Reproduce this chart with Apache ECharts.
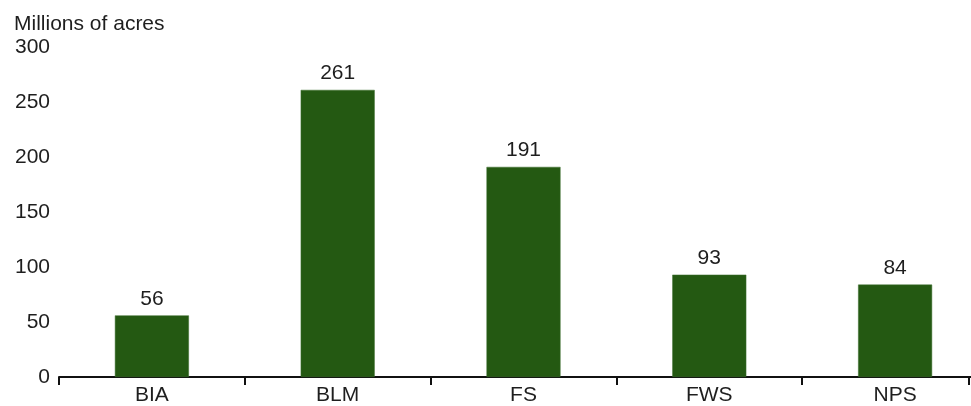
<!DOCTYPE html>
<html>
<head>
<meta charset="utf-8">
<script src="https://cdn.jsdelivr.net/npm/echarts@6/dist/echarts.min.js"></script>
<style>
html,body{margin:0;padding:0;background:#fff;overflow:hidden;width:971px;height:406px;}
#chart{width:988px;height:406px;}
</style>
</head>
<body>
<div id="chart"></div>
<script>
const categories = ['BIA', 'BLM', 'FS', 'FWS', 'NPS'];
const values = [56, 261, 191, 93, 84];
const yTicks = [0, 50, 100, 150, 200, 250, 300];
const axisTitle = 'Millions of acres';

const chart = echarts.init(document.getElementById('chart'));
const font = '"Liberation Sans", Arial, Helvetica, sans-serif';
chart.setOption({
  animation: false,
  textStyle: { fontFamily: font },
  title: {
    text: axisTitle,
    left: 9, top: 9,
    textStyle: { fontFamily: font, fontSize: 21, fontWeight: 'normal', color: '#1e1e1e' }
  },
  grid: { left: 59, top: 47, right: 0, bottom: 29, containLabel: false },
  xAxis: {
    type: 'category',
    data: categories,
    axisLine: { show: true, lineStyle: { color: '#111', width: 2 } },
    axisTick: { show: true, length: 8, lineStyle: { color: '#111', width: 2 } },
    axisLabel: { color: '#1e1e1e', fontSize: 21, fontFamily: font, margin: 8 }
  },
  yAxis: {
    type: 'value',
    min: yTicks[0], max: yTicks[yTicks.length - 1], interval: 50,
    axisLine: { show: false },
    axisTick: { show: false },
    splitLine: { show: false },
    axisLabel: { color: '#1e1e1e', fontSize: 21, fontFamily: font, margin: 9 }
  },
  graphic: [{
    type: 'rect', left: 968, top: 377,
    shape: { x: 0, y: 0, width: 2, height: 8 },
    style: { fill: '#111' }
  }],
  series: [{
    type: 'bar',
    data: values,
    barWidth: 74,
    itemStyle: { color: '#245912', borderColor: '#3d6e2e', borderWidth: 0.5 },
    label: { show: true, position: 'top', distance: 6, color: '#1e1e1e', fontSize: 21, fontFamily: font }
  }]
});
</script>
</body>
</html>
